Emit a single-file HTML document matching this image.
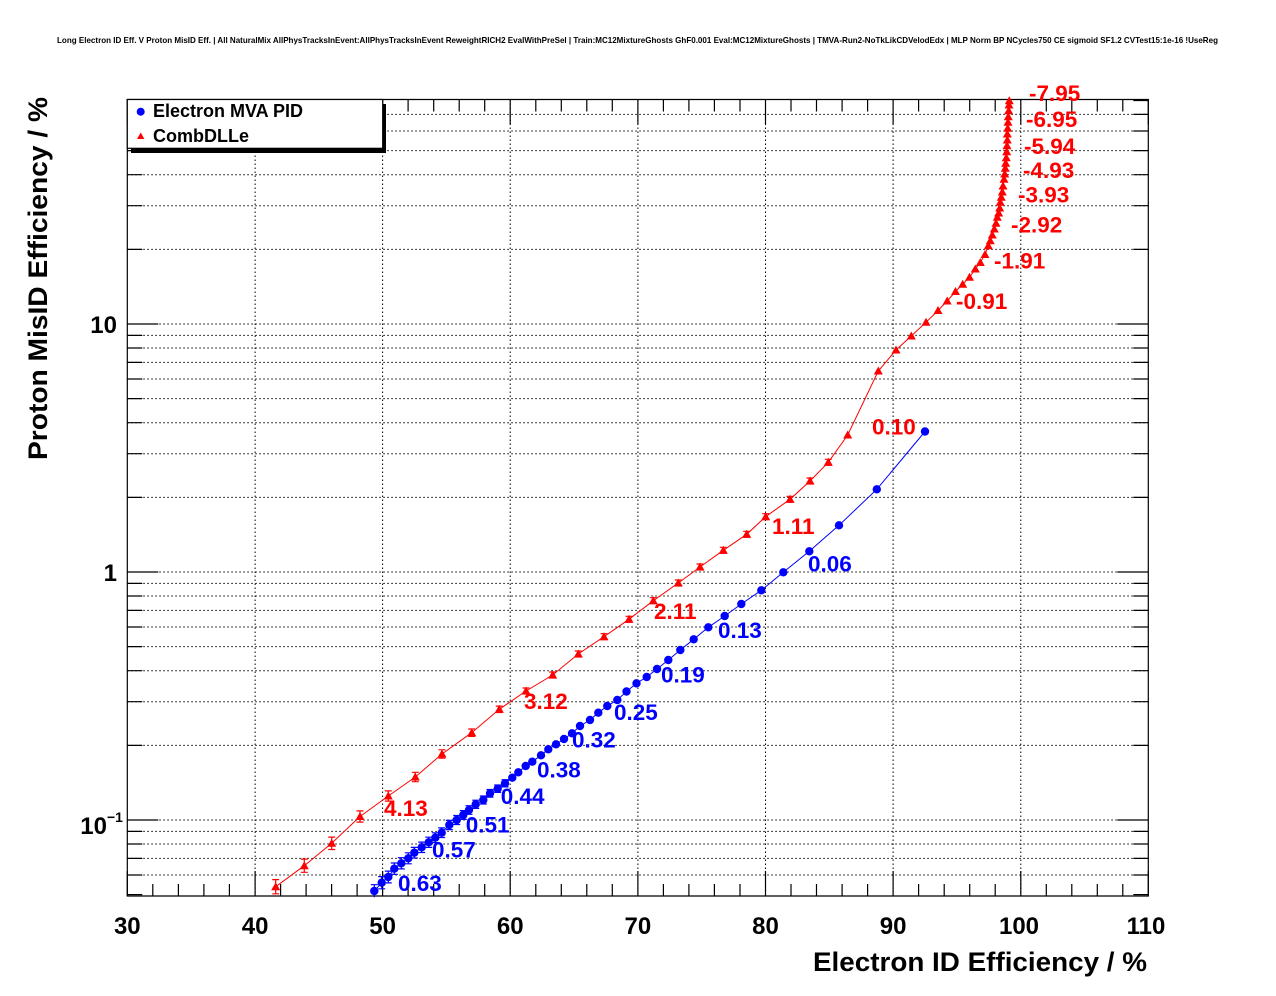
<!DOCTYPE html>
<html><head><meta charset="utf-8"><style>
html,body{margin:0;padding:0;background:#fff;}
svg{display:block;}
text{font-family:"Liberation Sans",Arial,sans-serif;font-weight:bold;}
</style></head><body>
<svg width="1276" height="996" viewBox="0 0 1276 996" xmlns="http://www.w3.org/2000/svg">
<defs>
<path id="tri" d="M-4.5,3.5 L4.5,3.5 L0,-4.5Z" fill="#ff0000"/>
</defs>
<rect width="1276" height="996" fill="#fff"/>
<text x="57" y="43" font-size="8.5" textLength="1161" lengthAdjust="spacingAndGlyphs">Long Electron ID Eff. V Proton MisID Eff. | All NaturalMix AllPhysTracksInEvent:AllPhysTracksInEvent ReweightRICH2 EvalWithPreSel | Train:MC12MixtureGhosts GhF0.001 Eval:MC12MixtureGhosts | TMVA-Run2-NoTkLikCDVelodEdx | MLP Norm BP NCycles750 CE sigmoid SF1.2 CVTest15:1e-16 !UseReg</text>

<!-- grid -->
<g stroke="#000" stroke-width="1" stroke-dasharray="1.5 2.5" fill="none">
<path d="M255.1,99.5V896 M382.6,99.5V896 M510.2,99.5V896 M637.9,99.5V896 M765.5,99.5V896 M893.1,99.5V896 M1020.8,99.5V896"/>
<path d="M127.3,875H1148.3 M127.3,858.4H1148.3 M127.3,844H1148.3 M127.3,831.4H1148.3 M127.3,820H1148.3 M127.3,745.4H1148.3 M127.3,701.7H1148.3 M127.3,670.7H1148.3 M127.3,646.6H1148.3 M127.3,627H1148.3 M127.3,610.4H1148.3 M127.3,596H1148.3 M127.3,583.4H1148.3 M127.3,572H1148.3 M127.3,497.4H1148.3 M127.3,453.7H1148.3 M127.3,422.7H1148.3 M127.3,398.6H1148.3 M127.3,379H1148.3 M127.3,362.4H1148.3 M127.3,348H1148.3 M127.3,335.4H1148.3 M127.3,324H1148.3 M127.3,249.4H1148.3 M127.3,205.7H1148.3 M127.3,174.7H1148.3 M127.3,150.6H1148.3 M127.3,131H1148.3 M127.3,114.4H1148.3"/>
</g>

<!-- frame -->
<path d="M127.3,99.5H1148.3V896H127.3Z" fill="none" stroke="#000" stroke-width="1.2"/>

<!-- x ticks bottom & top -->
<g stroke="#000" stroke-width="1.2">
<path d="M127.3,896v-25 M255.1,896v-25 M382.6,896v-25 M510.2,896v-25 M637.9,896v-25 M765.5,896v-25 M893.1,896v-25 M1020.8,896v-25 M1148.3,896v-25"/>
<path d="M152.8,896v-12 M178.4,896v-12 M203.9,896v-12 M229.4,896v-12 M280.6,896v-12 M306.1,896v-12 M331.6,896v-12 M357.1,896v-12 M408.1,896v-12 M433.7,896v-12 M459.2,896v-12 M484.7,896v-12 M535.8,896v-12 M561.3,896v-12 M586.8,896v-12 M612.3,896v-12 M663.4,896v-12 M688.9,896v-12 M714.4,896v-12 M740,896v-12 M791,896v-12 M816.5,896v-12 M842.1,896v-12 M867.6,896v-12 M918.6,896v-12 M944.2,896v-12 M969.7,896v-12 M995.2,896v-12 M1046.3,896v-12 M1071.8,896v-12 M1097.3,896v-12 M1122.8,896v-12"/>
<path d="M127.3,99.5v25 M255.1,99.5v25 M382.6,99.5v25 M510.2,99.5v25 M637.9,99.5v25 M765.5,99.5v25 M893.1,99.5v25 M1020.8,99.5v25 M1148.3,99.5v25"/>
<path d="M152.8,99.5v12 M178.4,99.5v12 M203.9,99.5v12 M229.4,99.5v12 M280.6,99.5v12 M306.1,99.5v12 M331.6,99.5v12 M357.1,99.5v12 M408.1,99.5v12 M433.7,99.5v12 M459.2,99.5v12 M484.7,99.5v12 M535.8,99.5v12 M561.3,99.5v12 M586.8,99.5v12 M612.3,99.5v12 M663.4,99.5v12 M688.9,99.5v12 M714.4,99.5v12 M740,99.5v12 M791,99.5v12 M816.5,99.5v12 M842.1,99.5v12 M867.6,99.5v12 M918.6,99.5v12 M944.2,99.5v12 M969.7,99.5v12 M995.2,99.5v12 M1046.3,99.5v12 M1071.8,99.5v12 M1097.3,99.5v12 M1122.8,99.5v12"/>
<!-- y ticks left -->
<path d="M127.3,820h31 M127.3,572h31 M127.3,324h31"/>
<path d="M127.3,894.6h15 M127.3,875h15 M127.3,858.4h15 M127.3,844h15 M127.3,831.4h15 M127.3,745.4h15 M127.3,701.7h15 M127.3,670.7h15 M127.3,646.6h15 M127.3,627h15 M127.3,610.4h15 M127.3,596h15 M127.3,583.4h15 M127.3,497.4h15 M127.3,453.7h15 M127.3,422.7h15 M127.3,398.6h15 M127.3,379h15 M127.3,362.4h15 M127.3,348h15 M127.3,335.4h15 M127.3,249.4h15 M127.3,205.7h15 M127.3,174.7h15 M127.3,150.6h15 M127.3,131h15 M127.3,114.4h15 M127.3,100.5h15"/>
<!-- y ticks right -->
<path d="M1148.3,820h-31 M1148.3,572h-31 M1148.3,324h-31"/>
<path d="M1148.3,894.6h-15 M1148.3,875h-15 M1148.3,858.4h-15 M1148.3,844h-15 M1148.3,831.4h-15 M1148.3,745.4h-15 M1148.3,701.7h-15 M1148.3,670.7h-15 M1148.3,646.6h-15 M1148.3,627h-15 M1148.3,610.4h-15 M1148.3,596h-15 M1148.3,583.4h-15 M1148.3,497.4h-15 M1148.3,453.7h-15 M1148.3,422.7h-15 M1148.3,398.6h-15 M1148.3,379h-15 M1148.3,362.4h-15 M1148.3,348h-15 M1148.3,335.4h-15 M1148.3,249.4h-15 M1148.3,205.7h-15 M1148.3,174.7h-15 M1148.3,150.6h-15 M1148.3,131h-15 M1148.3,114.4h-15 M1148.3,100.5h-15"/>
</g>

<!-- axis labels -->
<g font-size="24" text-anchor="middle">
<text x="127.3" y="934">30</text>
<text x="255.1" y="934">40</text>
<text x="382.6" y="934">50</text>
<text x="510.2" y="934">60</text>
<text x="637.9" y="934">70</text>
<text x="765.5" y="934">80</text>
<text x="893.1" y="934">90</text>
<text x="1019" y="934">100</text>
<text x="1146" y="934">110</text>
</g>
<g font-size="24" text-anchor="end">
<text x="117" y="333">10</text>
<text x="117" y="581">1</text>
<text x="107" y="834">10</text>
</g>
<text x="107" y="822" font-size="14">−1</text>

<text x="1147" y="971" font-size="27" text-anchor="end" textLength="334" lengthAdjust="spacingAndGlyphs">Electron ID Efficiency / %</text>
<text transform="translate(47,460) rotate(-90)" font-size="27" textLength="363" lengthAdjust="spacingAndGlyphs">Proton MisID Efficiency / %</text>

<!-- red series -->
<polyline fill="none" stroke="#ff0000" stroke-width="1" points="275.7,886.7 304.3,865.7 331.7,843.3 360,816.5 388.3,796 415.3,777 442,754 471.7,732.7 499.3,709.3 526,691 552.7,675 578.3,654 604,636.7 629,619.3 653.3,600.7 678.3,583 700,567 723.3,550.3 746.7,534.3 765.7,516.7 790,499.3 810,481 828.3,462.3 847.7,435 878.3,371 896,350 911.3,336 926,322.3 938,310.5 947.2,301 955.5,291.5 962.7,284.2 969.5,277.3 975.3,269 980.3,262.5 985,254.5 988.3,245.7 990.3,240.7 992.3,235 994.3,229 996,223.3 997.3,217.3 998.7,213 999.7,208 1000.3,202.3 1001.3,197.3 1002.3,192 1003,186 1004,179.3 1004.7,174 1005.3,168.3 1005.7,163.3 1006.3,157.7 1006.7,151.7 1007,145.7 1007.3,140 1007.3,134 1007.7,128.3 1008,122.3 1008.3,116.7 1008.7,110.7 1009,105 1009.3,100.7"/>
<g stroke="#ff0000" stroke-width="1.2" fill="none">
<path d="M275.7,879.6v14.2 M272.2,879.6h7 M272.2,893.8h7"/>
<path d="M304.3,859.1v13.2 M300.8,859.1h7 M300.8,872.3h7"/>
<path d="M331.7,837.1v12.4 M328.2,837.1h7 M328.2,849.5h7"/>
<path d="M360,810.9v11.2 M356.5,810.9h7 M356.5,822.1h7"/>
<path d="M388.3,790.9v10.2 M384.8,790.9h7 M384.8,801.1h7"/>
<path d="M415.3,772.3v9.4 M411.8,772.3h7 M411.8,781.7h7"/>
<path d="M442,749.8v8.4 M438.5,749.8h7 M438.5,758.2h7"/>
<path d="M471.7,729v7.4 M468.2,729h7 M468.2,736.4h7"/>
<path d="M499.3,706.1v6.4 M495.8,706.1h7 M495.8,712.5h7"/>
<path d="M526,688v6 M522.5,688h7 M522.5,694h7"/>
<path d="M552.7,672v6 M549.2,672h7 M549.2,678h7"/>
<path d="M578.3,651v6 M574.8,651h7 M574.8,657h7"/>
<path d="M604,633.7v6 M600.5,633.7h7 M600.5,639.7h7"/>
<path d="M629,616.3v6 M625.5,616.3h7 M625.5,622.3h7"/>
<path d="M653.3,597.7v6 M649.8,597.7h7 M649.8,603.7h7"/>
<path d="M678.3,580v6 M674.8,580h7 M674.8,586h7"/>
<path d="M700,564v6 M696.5,564h7 M696.5,570h7"/>
<path d="M723.3,547.3v6 M719.8,547.3h7 M719.8,553.3h7"/>
<path d="M746.7,531.3v6 M743.2,531.3h7 M743.2,537.3h7"/>
<path d="M765.7,513.7v6 M762.2,513.7h7 M762.2,519.7h7"/>
<path d="M790,496.3v6 M786.5,496.3h7 M786.5,502.3h7"/>
<path d="M810,478v6 M806.5,478h7 M806.5,484h7"/>
<path d="M828.3,459.3v6 M824.8,459.3h7 M824.8,465.3h7"/>
</g>
<g>
<use href="#tri" x="275.7" y="886.7"/><use href="#tri" x="304.3" y="865.7"/><use href="#tri" x="331.7" y="843.3"/><use href="#tri" x="360" y="816.5"/><use href="#tri" x="388.3" y="796"/><use href="#tri" x="415.3" y="777"/><use href="#tri" x="442" y="754"/><use href="#tri" x="471.7" y="732.7"/><use href="#tri" x="499.3" y="709.3"/><use href="#tri" x="526" y="691"/><use href="#tri" x="552.7" y="675"/><use href="#tri" x="578.3" y="654"/><use href="#tri" x="604" y="636.7"/><use href="#tri" x="629" y="619.3"/><use href="#tri" x="653.3" y="600.7"/><use href="#tri" x="678.3" y="583"/><use href="#tri" x="700" y="567"/><use href="#tri" x="723.3" y="550.3"/><use href="#tri" x="746.7" y="534.3"/><use href="#tri" x="765.7" y="516.7"/><use href="#tri" x="790" y="499.3"/><use href="#tri" x="810" y="481"/><use href="#tri" x="828.3" y="462.3"/><use href="#tri" x="847.7" y="435"/><use href="#tri" x="878.3" y="371"/><use href="#tri" x="896" y="350"/><use href="#tri" x="911.3" y="336"/><use href="#tri" x="926" y="322.3"/><use href="#tri" x="938" y="310.5"/><use href="#tri" x="947.2" y="301"/><use href="#tri" x="955.5" y="291.5"/><use href="#tri" x="962.7" y="284.2"/><use href="#tri" x="969.5" y="277.3"/><use href="#tri" x="975.3" y="269"/><use href="#tri" x="980.3" y="262.5"/><use href="#tri" x="985" y="254.5"/><use href="#tri" x="988.3" y="245.7"/><use href="#tri" x="990.3" y="240.7"/><use href="#tri" x="992.3" y="235"/><use href="#tri" x="994.3" y="229"/><use href="#tri" x="996" y="223.3"/><use href="#tri" x="997.3" y="217.3"/><use href="#tri" x="998.7" y="213"/><use href="#tri" x="999.7" y="208"/><use href="#tri" x="1000.3" y="202.3"/><use href="#tri" x="1001.3" y="197.3"/><use href="#tri" x="1002.3" y="192"/><use href="#tri" x="1003" y="186"/><use href="#tri" x="1004" y="179.3"/><use href="#tri" x="1004.7" y="174"/><use href="#tri" x="1005.3" y="168.3"/><use href="#tri" x="1005.7" y="163.3"/><use href="#tri" x="1006.3" y="157.7"/><use href="#tri" x="1006.7" y="151.7"/><use href="#tri" x="1007" y="145.7"/><use href="#tri" x="1007.3" y="140"/><use href="#tri" x="1007.3" y="134"/><use href="#tri" x="1007.7" y="128.3"/><use href="#tri" x="1008" y="122.3"/><use href="#tri" x="1008.3" y="116.7"/><use href="#tri" x="1008.7" y="110.7"/><use href="#tri" x="1009" y="105"/><use href="#tri" x="1009.3" y="100.7"/>
</g>

<!-- blue series -->
<polyline fill="none" stroke="#0000ff" stroke-width="1" points="374.3,891 381.7,882.7 388.3,877 394.3,868.7 401.3,863.3 408.3,858.3 414.3,852.7 421.7,847.3 428.7,842.3 435.3,837.7 441.7,832.7 449.3,825 456.7,820 463.3,815 469,810 475.7,804.3 483.3,800 490,793.3 497.7,788.7 505,783.3 512.3,777.7 518.3,772.3 525.7,766 532.3,761.7 541,755.3 548.3,749.3 556,744.3 564,739 572,733.3 580,726 590,720 598.3,712.7 607.3,706 617.3,700 626.5,691.5 636.5,683.3 646.7,677 657,669 668.3,660 680.3,650 693.7,639.3 708.3,627.3 724.7,616 741.3,604 761.3,590.3 783.3,572.3 809.3,551.3 839,525.3 876.8,489.3 925,431.5"/>
<g stroke="#0000ff" stroke-width="1.2" fill="none">
<path d="M374.3,884.7v12.6 M370.8,884.7h7"/>
<path d="M381.7,876.6v12.2 M378.2,876.6h7 M378.2,888.8h7"/>
<path d="M388.3,871.1v11.8 M384.8,871.1h7 M384.8,882.9h7"/>
<path d="M394.3,863v11.4 M390.8,863h7 M390.8,874.4h7"/>
<path d="M401.3,857.7v11.2 M397.8,857.7h7 M397.8,868.9h7"/>
<path d="M408.3,852.8v11 M404.8,852.8h7 M404.8,863.8h7"/>
<path d="M414.3,847.4v10.6 M410.8,847.4h7 M410.8,858h7"/>
<path d="M421.7,842.1v10.4 M418.2,842.1h7 M418.2,852.5h7"/>
<path d="M428.7,837.2v10.2 M425.2,837.2h7 M425.2,847.4h7"/>
<path d="M435.3,832.8v9.8 M431.8,832.8h7 M431.8,842.6h7"/>
<path d="M441.7,827.9v9.6 M438.2,827.9h7 M438.2,837.5h7"/>
<path d="M449.3,820.4v9.2 M445.8,820.4h7 M445.8,829.6h7"/>
<path d="M456.7,815.5v9 M453.2,815.5h7 M453.2,824.5h7"/>
<path d="M463.3,810.6v8.8 M459.8,810.6h7 M459.8,819.4h7"/>
<path d="M469,805.7v8.6 M465.5,805.7h7 M465.5,814.3h7"/>
<path d="M475.7,800.2v8.2 M472.2,800.2h7 M472.2,808.4h7"/>
<path d="M483.3,796v8 M479.8,796h7 M479.8,804h7"/>
<path d="M490,789.5v7.6 M486.5,789.5h7 M486.5,797.1h7"/>
<path d="M497.7,785v7.4 M494.2,785h7 M494.2,792.4h7"/>
<path d="M505,779.7v7.2 M501.5,779.7h7 M501.5,786.9h7"/>
</g>
<g fill="#0000ff">
<circle cx="374.3" cy="891" r="4.2"/><circle cx="381.7" cy="882.7" r="4.2"/><circle cx="388.3" cy="877" r="4.2"/><circle cx="394.3" cy="868.7" r="4.2"/><circle cx="401.3" cy="863.3" r="4.2"/><circle cx="408.3" cy="858.3" r="4.2"/><circle cx="414.3" cy="852.7" r="4.2"/><circle cx="421.7" cy="847.3" r="4.2"/><circle cx="428.7" cy="842.3" r="4.2"/><circle cx="435.3" cy="837.7" r="4.2"/><circle cx="441.7" cy="832.7" r="4.2"/><circle cx="449.3" cy="825" r="4.2"/><circle cx="456.7" cy="820" r="4.2"/><circle cx="463.3" cy="815" r="4.2"/><circle cx="469" cy="810" r="4.2"/><circle cx="475.7" cy="804.3" r="4.2"/><circle cx="483.3" cy="800" r="4.2"/><circle cx="490" cy="793.3" r="4.2"/><circle cx="497.7" cy="788.7" r="4.2"/><circle cx="505" cy="783.3" r="4.2"/><circle cx="512.3" cy="777.7" r="4.2"/><circle cx="518.3" cy="772.3" r="4.2"/><circle cx="525.7" cy="766" r="4.2"/><circle cx="532.3" cy="761.7" r="4.2"/><circle cx="541" cy="755.3" r="4.2"/><circle cx="548.3" cy="749.3" r="4.2"/><circle cx="556" cy="744.3" r="4.2"/><circle cx="564" cy="739" r="4.2"/><circle cx="572" cy="733.3" r="4.2"/><circle cx="580" cy="726" r="4.2"/><circle cx="590" cy="720" r="4.2"/><circle cx="598.3" cy="712.7" r="4.2"/><circle cx="607.3" cy="706" r="4.2"/><circle cx="617.3" cy="700" r="4.2"/><circle cx="626.5" cy="691.5" r="4.2"/><circle cx="636.5" cy="683.3" r="4.2"/><circle cx="646.7" cy="677" r="4.2"/><circle cx="657" cy="669" r="4.2"/><circle cx="668.3" cy="660" r="4.2"/><circle cx="680.3" cy="650" r="4.2"/><circle cx="693.7" cy="639.3" r="4.2"/><circle cx="708.3" cy="627.3" r="4.2"/><circle cx="724.7" cy="616" r="4.2"/><circle cx="741.3" cy="604" r="4.2"/><circle cx="761.3" cy="590.3" r="4.2"/><circle cx="783.3" cy="572.3" r="4.2"/><circle cx="809.3" cy="551.3" r="4.2"/><circle cx="839" cy="525.3" r="4.2"/><circle cx="876.8" cy="489.3" r="4.2"/><circle cx="925" cy="431.5" r="4.2"/>
</g>

<!-- red labels -->
<g fill="#ff0000" font-size="22.5">
<text x="1029" y="101">-7.95</text>
<text x="1026" y="127">-6.95</text>
<text x="1024" y="154">-5.94</text>
<text x="1023" y="178">-4.93</text>
<text x="1018" y="202.5">-3.93</text>
<text x="1011" y="232.5">-2.92</text>
<text x="994" y="268.5">-1.91</text>
<text x="956" y="309">-0.91</text>
<text x="872" y="434.5">0.10</text>
<text x="772" y="534">1.11</text>
<text x="654" y="619">2.11</text>
<text x="524" y="709">3.12</text>
<text x="384" y="816">4.13</text>
</g>
<!-- blue labels -->
<g fill="#0000ff" font-size="22.5">
<text x="808" y="571.5">0.06</text>
<text x="718" y="638">0.13</text>
<text x="661" y="682.5">0.19</text>
<text x="614" y="720">0.25</text>
<text x="572" y="747.5">0.32</text>
<text x="537" y="777.5">0.38</text>
<text x="500.7" y="804">0.44</text>
<text x="465.7" y="832.5">0.51</text>
<text x="432" y="857.5">0.57</text>
<text x="398" y="891">0.63</text>
</g>

<!-- legend -->
<rect x="131" y="104" width="255" height="49" fill="#000"/>
<rect x="127.3" y="99.5" width="255.4" height="48.8" fill="#fff" stroke="#000" stroke-width="1.2"/>
<circle cx="140.7" cy="111.7" r="4" fill="#0000ff"/>
<path d="M137,139 L144.4,139 L140.7,132.5Z" fill="#ff0000"/>
<text x="153" y="117" font-size="18">Electron MVA PID</text>
<text x="153" y="142" font-size="18">CombDLLe</text>
</svg>
</body></html>
